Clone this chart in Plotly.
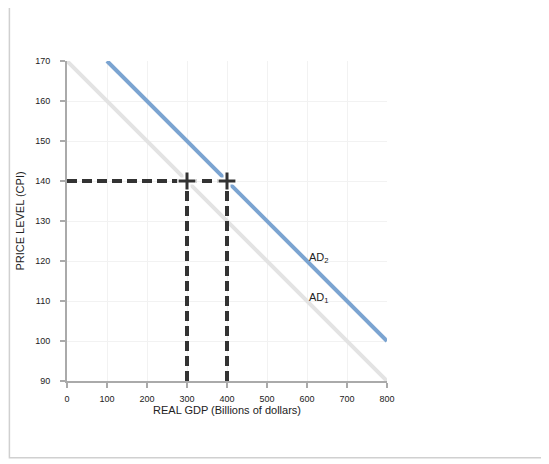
import plotly.graph_objects as go

# aggregate demand curves
ad1_gdp = [0, 800]
ad1_price = [170, 90]
ad2_gdp = [100, 800]
ad2_price = [170, 100]

# equilibrium guides
eq_gdp = [300, 400]
eq_price = 140

x_ticks = [0, 100, 200, 300, 400, 500, 600, 700, 800]
y_ticks = [90, 100, 110, 120, 130, 140, 150, 160, 170]

dash_col = "#333333"

fig = go.Figure()
fig.add_trace(go.Scatter(x=ad1_gdp, y=ad1_price, mode="lines",
                         line=dict(color="#e3e3e3", width=4), hoverinfo="skip"))
fig.add_trace(go.Scatter(x=ad2_gdp, y=ad2_price, mode="lines",
                         line=dict(color="#7ba4d1", width=4), hoverinfo="skip"))

# dashed guide lines
fig.add_trace(go.Scatter(x=[0, eq_gdp[1]], y=[eq_price, eq_price], mode="lines",
                         line=dict(color=dash_col, width=4, dash="10px,5px"), hoverinfo="skip"))
for g in eq_gdp:
    fig.add_trace(go.Scatter(x=[g, g], y=[90, eq_price], mode="lines",
                             line=dict(color=dash_col, width=4, dash="10px,5px"), hoverinfo="skip"))

# cross markers
fig.add_trace(go.Scatter(x=eq_gdp, y=[eq_price] * 2, mode="markers",
                         marker=dict(symbol="cross-thin", size=14, line=dict(color="white", width=7)),
                         hoverinfo="skip"))
fig.add_trace(go.Scatter(x=eq_gdp, y=[eq_price] * 2, mode="markers",
                         marker=dict(symbol="cross-thin", size=12, line=dict(color=dash_col, width=3)),
                         hoverinfo="skip"))

fig.add_annotation(x=600, y=120.8, text="AD<sub>2</sub>", showarrow=False,
                   xanchor="left", font=dict(size=11, color="#222"))
fig.add_annotation(x=600, y=110.8, text="AD<sub>1</sub>", showarrow=False,
                   xanchor="left", font=dict(size=11, color="#222"))

# outer border
fig.add_shape(type="rect", xref="paper", yref="paper", x0=-0.18, x1=1.5, y0=-0.24, y1=1.3,
              line=dict(color="#d0d0d0", width=1.5))

fig.update_xaxes(range=[0, 800], tickvals=x_ticks, showgrid=True, gridcolor="#f2f2f2",
                 zeroline=False, showline=True, linecolor="#aaaaaa", linewidth=2,
                 ticks="outside", ticklen=5, tickcolor="#aaaaaa", tickwidth=2,
                 ticklabelstandoff=3, automargin=False,
                 tickfont=dict(size=9, color="#222"),
                 title=dict(text="REAL GDP (Billions of dollars)", font=dict(size=11, color="#222"),
                            standoff=4))
fig.update_yaxes(range=[90, 170], tickvals=y_ticks, showgrid=True, gridcolor="#f2f2f2",
                 zeroline=False, showline=True, linecolor="#aaaaaa", linewidth=2,
                 ticks="outside", ticklen=5, tickcolor="#aaaaaa", tickwidth=2,
                 ticklabelstandoff=8, automargin=False,
                 tickfont=dict(size=9, color="#222"),
                 title=dict(text="PRICE LEVEL (CPI)", font=dict(size=11, color="#222"),
                            standoff=8))

fig.update_layout(width=549, height=464, showlegend=False,
                  margin=dict(l=59, r=170, t=53, b=91),
                  plot_bgcolor="white", paper_bgcolor="white",
                  font=dict(family="Arial, Liberation Sans, sans-serif"))

fig.write_html("out.html")
